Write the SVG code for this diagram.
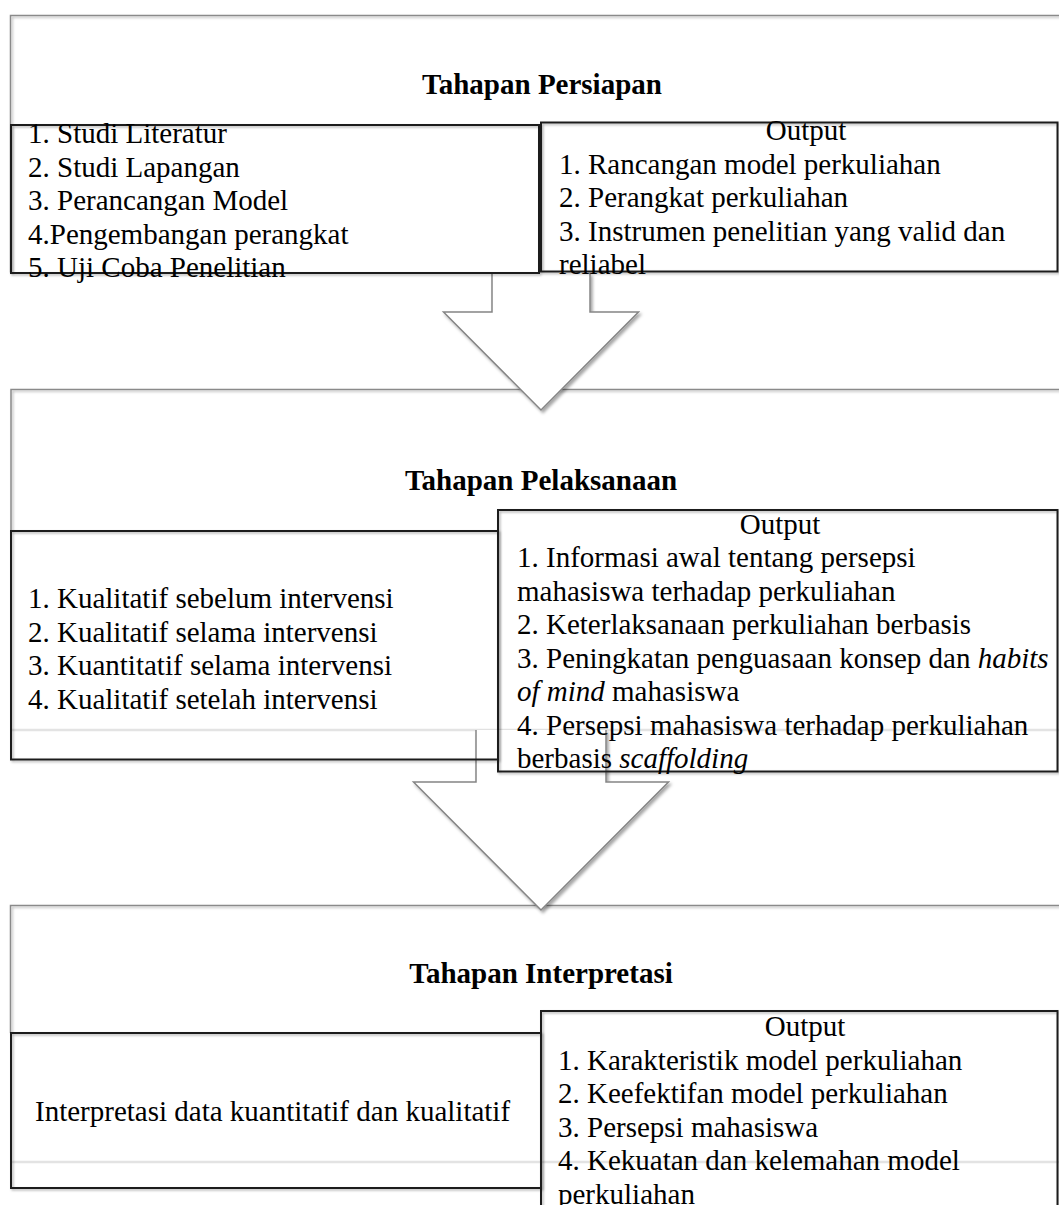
<svg xmlns="http://www.w3.org/2000/svg" width="1059" height="1205" viewBox="0 0 1059 1205">
  <defs>
    <filter id="sh" x="-5%" y="-5%" width="115%" height="115%">
      <feDropShadow dx="1.5" dy="1.5" stdDeviation="1.2" flood-color="#000" flood-opacity="0.3"/>
    </filter>
    <filter id="sha" x="-10%" y="-10%" width="130%" height="130%">
      <feDropShadow dx="2" dy="2.5" stdDeviation="1.6" flood-color="#000" flood-opacity="0.35"/>
    </filter>
  </defs>
  <style>
    .bg{fill:#fff;stroke:none}
    .edge{fill:none;stroke:#8a8a8a;stroke-width:1.5;filter:url(#sh)}
    .faint{stroke:#e3e3e3;stroke-width:2.5}
    .inner{fill:none;stroke:#1e1e1e;stroke-width:2;filter:url(#sh)}
    .arrow{fill:#fff;stroke:#858585;stroke-width:1.5;filter:url(#sha)}
    .t{font-family:"Liberation Serif","Times New Roman",serif;font-size:29px;fill:#000}
    .title{font-weight:bold;text-anchor:middle}
    .mid{text-anchor:middle}
    .it{font-style:italic}
  </style>
  <rect width="1059" height="1205" fill="#fff"/>

  <!-- Stage frames -->
  <g id="stage1">
    <rect class="bg" x="10.5" y="15.5" width="1060" height="257"/>
    <path class="edge" d="M10.5,272.5 V15.5 H1070"/>
    <text class="t title" x="542" y="94">Tahapan Persiapan</text>
  </g>
  <g id="stage2">
    <rect class="bg" x="11" y="389.5" width="1060" height="340"/>
    <path class="edge" d="M11,531 V389.5 H1070"/>
    <line class="faint" x1="12" y1="730" x2="1059" y2="730"/>
    <text class="t title" x="541" y="490">Tahapan Pelaksanaan</text>
  </g>
  <g id="stage3">
    <rect class="bg" x="10.5" y="905.5" width="1060" height="256"/>
    <path class="edge" d="M10.5,1033 V905.5 H1070"/>
    <line class="faint" x1="12" y1="1162" x2="1059" y2="1162"/>
    <text class="t title" x="541" y="983">Tahapan Interpretasi</text>
  </g>

  <!-- Connectors -->
  <g id="connectors">
    <path class="arrow" d="M492,273 V312 H443.5 L541,410 L638.5,312 H590 V273"/>
    <path class="arrow" d="M476,730 V782 H413.5 L541,910 L668.5,782 H606 V730"/>
  </g>

  <!-- Stage 1 boxes -->
  <g id="stage1-steps">
    <rect class="inner" x="11" y="125" width="528" height="148"/>
    <text class="t" x="28" y="143">1. Studi Literatur</text>
    <text class="t" x="28" y="176.5">2. Studi Lapangan</text>
    <text class="t" x="28" y="210">3. Perancangan Model</text>
    <text class="t" x="28" y="243.5">4.Pengembangan perangkat</text>
    <text class="t" x="28" y="277">5. Uji Coba Penelitian</text>
  </g>
  <g id="stage1-output">
    <rect class="inner" x="541" y="122.5" width="516.5" height="149"/>
    <text class="t mid" x="806" y="140">Output</text>
    <text class="t" x="559" y="173.5">1. Rancangan model perkuliahan</text>
    <text class="t" x="559" y="207">2. Perangkat perkuliahan</text>
    <text class="t" x="559" y="240.5">3. Instrumen penelitian yang valid dan</text>
    <text class="t" x="559" y="274">reliabel</text>
  </g>

  <!-- Stage 2 boxes -->
  <g id="stage2-steps">
    <rect class="inner" x="11" y="531" width="487" height="228.5"/>
    <text class="t" x="28" y="608">1. Kualitatif sebelum intervensi</text>
    <text class="t" x="28" y="641.5">2. Kualitatif selama intervensi</text>
    <text class="t" x="28" y="675">3. Kuantitatif selama intervensi</text>
    <text class="t" x="28" y="708.5">4. Kualitatif setelah intervensi</text>
  </g>
  <g id="stage2-output">
    <rect class="inner" x="498" y="510" width="559.5" height="261.5"/>
    <text class="t mid" x="780" y="533.5">Output</text>
    <text class="t" x="517" y="567">1. Informasi awal tentang persepsi</text>
    <text class="t" x="517" y="600.5">mahasiswa terhadap perkuliahan</text>
    <text class="t" x="517" y="634">2. Keterlaksanaan perkuliahan berbasis</text>
    <text class="t" x="517" y="667.5">3. Peningkatan penguasaan konsep dan <tspan class="it">habits</tspan></text>
    <text class="t" x="517" y="701"><tspan class="it">of mind</tspan> mahasiswa</text>
    <text class="t" x="517" y="734.5">4. Persepsi mahasiswa terhadap perkuliahan</text>
    <text class="t" x="517" y="768">berbasis <tspan class="it">scaffolding</tspan></text>
  </g>

  <!-- Stage 3 boxes -->
  <g id="stage3-steps">
    <rect class="inner" x="11" y="1033" width="530" height="155"/>
    <text class="t" x="35" y="1121">Interpretasi data kuantitatif dan kualitatif</text>
  </g>
  <g id="stage3-output">
    <rect class="inner" x="541" y="1011" width="516.5" height="210"/>
    <text class="t mid" x="805" y="1036">Output</text>
    <text class="t" x="558" y="1069.5">1. Karakteristik model perkuliahan</text>
    <text class="t" x="558" y="1103">2. Keefektifan model perkuliahan</text>
    <text class="t" x="558" y="1136.5">3. Persepsi mahasiswa</text>
    <text class="t" x="558" y="1170">4. Kekuatan dan kelemahan model</text>
    <text class="t" x="558" y="1203.5">perkuliahan</text>
  </g>
</svg>
